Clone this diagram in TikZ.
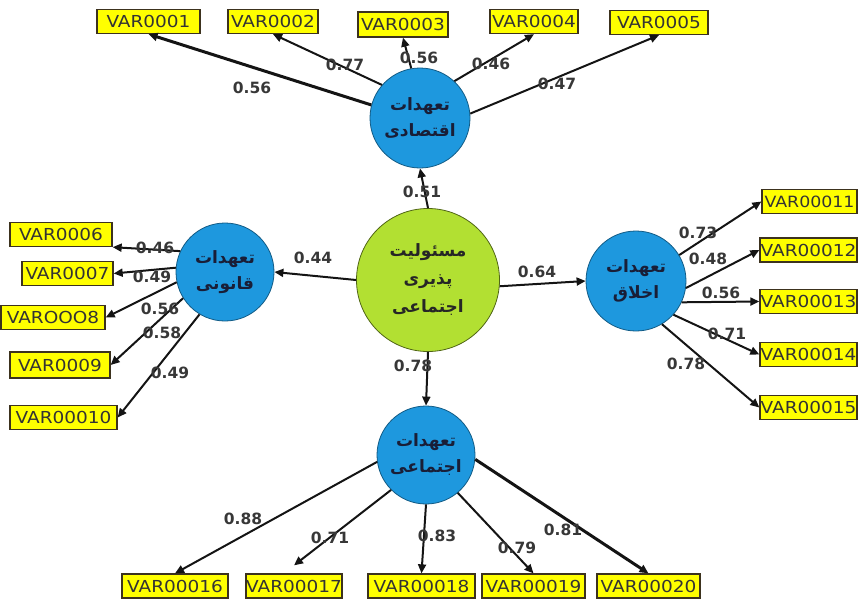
\documentclass[tikz,border=0pt]{standalone}
\usepackage{fontspec}
\usetikzlibrary{arrows.meta}
\TeXXeTstate=1
\newfontfamily\arabicfont[Script=Arabic]{DejaVu Sans}
\newfontfamily\boxfont[FakeStretch=1.12]{DejaVu Sans}
\newfontfamily\labfont{DejaVu Sans}
\definecolor{blueC}{RGB}{30,152,222}
\definecolor{greenC}{RGB}{178,224,50}
\definecolor{boxY}{RGB}{255,255,0}
\definecolor{boxL}{RGB}{60,50,30}
\definecolor{labC}{RGB}{55,55,55}
\definecolor{arC}{RGB}{25,30,55}
\tikzset{
  lat/.style={circle, fill=blueC, draw=blueC!60!black, line width=0.8pt, minimum size=100pt, inner sep=0pt, align=center, text=arC, font=\arabicfont\bfseries\fontsize{17}{26}\selectfont},
  core/.style={circle, fill=greenC, draw=greenC!45!black, line width=0.8pt, minimum size=143pt, inner sep=0pt, align=center, text=black!85, font=\arabicfont\bfseries\fontsize{17}{28}\selectfont},
  vbox/.style={draw=boxL, fill=boxY, line width=1.3pt, minimum width=#1, minimum height=24pt, inner sep=0pt, font=\boxfont\fontsize{16.5}{16.5}\selectfont, text=black!80},
  conn/.style={-{Triangle[length=9pt,width=8pt]}, line width=2pt, draw=black!92},
  thick conn/.style={conn, line width=3pt},
  lab/.style={font=\labfont\bfseries\fontsize{15.5}{16}\selectfont, text=labC, inner sep=0pt}
}
\begin{document}
\begin{tikzpicture}[x=1pt,y=-1pt]
\useasboundingbox (0,0) rectangle (858,600);
% latent variables
\node[core] (C) at (428,280) {\beginR مسئولیت\endR\\\beginR پذیری\endR\\\beginR اجتماعی\endR};
\node[lat] (T) at (420,118) {\beginR تعهدات\endR\\\beginR اقتصادی\endR};
\node[lat, minimum size=98pt] (L) at (225,272) {\beginR تعهدات\endR\\\beginR قانونی\endR};
\node[lat] (R) at (636,281) {\beginR تعهدات\endR\\\beginR اخلاق\endR};
\node[lat, minimum size=98pt] (B) at (426,455) {\beginR تعهدات\endR\\\beginR اجتماعی\endR};
% indicators top
\node[vbox=103pt] (v1) at (148.5,21.5) {VAR0001};
\node[vbox=90pt] (v2) at (273,21.5) {VAR0002};
\node[vbox=90pt, minimum height=25pt] (v3) at (403,24.5) {VAR0003};
\node[vbox=88pt] (v4) at (534,21.5) {VAR0004};
\node[vbox=98pt] (v5) at (659,22.5) {VAR0005};
% left
\node[vbox=102pt] (v6) at (61,234.5) {VAR0006};
\node[vbox=91pt] (v7) at (67.5,273.5) {VAR0007};
\node[vbox=104pt] (v8) at (53,317.5) {VAROOO8};
\node[vbox=100pt, minimum height=26pt] (v9) at (60,365) {VAR0009};
\node[vbox=107pt] (v10) at (63.5,417.5) {VAR00010};
% right
\node[vbox=95pt, font=\boxfont\fontsize{15.5}{15.5}\selectfont] (v11) at (809.5,201.5) {VAR00011};
\node[vbox=97pt] (v12) at (808.5,250) {VAR00012};
\node[vbox=97pt] (v13) at (808.5,301.5) {VAR00013};
\node[vbox=97pt] (v14) at (808.5,354.5) {VAR00014};
\node[vbox=97pt] (v15) at (808.5,407.5) {VAR00015};
% bottom
\node[vbox=106pt] (v16) at (175,586) {VAR00016};
\node[vbox=92pt] (v17) at (294,586) {VAR00017};
\node[vbox=107pt] (v18) at (421.5,586) {VAR00018};
\node[vbox=103pt] (v19) at (533.5,586) {VAR00019};
\node[vbox=103pt] (v20) at (648.5,586) {VAR00020};
% structural paths
\draw[conn] (C.north) -- (T.south);
\draw[conn] (C.west) -- (L.east);
\draw[conn] (C.-5) -- (R.west);
\draw[conn] (C.south) -- (B.north);
% top loadings
\draw[thick conn] (T.165) -- (v1.south);
\draw[conn] (T.139) -- (v2.south);
\draw[conn] (T.100) -- (v3.south);
\draw[conn] (T.47) -- (v4.south);
\draw[conn] (T.5) -- (v5.south);
% left loadings
\draw[conn] (L.155) -- (v6.south east);
\draw[conn] (L.175) -- (v7.east);
\draw[conn] (L.192) -- (v8.east);
\draw[conn] (L.212) -- (v9.east);
\draw[conn] (L.239) -- (v10.east);
% right loadings
\draw[conn] (R.31) -- (v11.west);
\draw[conn] (R.-8) -- (v12.west);
\draw[conn] (R.-25) -- (v13.west);
\draw[conn] (R.-42) -- (v14.west);
\draw[conn] (R.-59) -- (v15.west);
% bottom loadings
\draw[conn] (B.188) -- (v16.north);
\draw[conn] (B.225) -- ([yshift=8pt]v17.north);
\draw[conn] (B.270) -- (v18.north);
\draw[conn] (B.-50) -- (v19.north);
\draw[thick conn] (B.-5) -- (v20.north);
% labels
\node[lab] (l0a) at (422,192) {0.51};
\node[lab] (l0b) at (313,258) {0.44};
\node[lab] (l0c) at (537,272) {0.64};
\node[lab] (l0d) at (413,366) {0.78};
\node[lab] (l1) at (252,88) {0.56};
\node[lab] (l2) at (345,65) {0.77};
\node[lab] (l3) at (419,58) {0.56};
\node[lab] (l4) at (491,64) {0.46};
\node[lab] (l5) at (557,84) {0.47};
\node[lab] (l6) at (155,248) {0.46};
\node[lab] (l7) at (152,277) {0.49};
\node[lab] (l8) at (160,309) {0.56};
\node[lab] (l9) at (162,333) {0.58};
\node[lab] (l10) at (170,373) {0.49};
\node[lab] (l11) at (698,233) {0.73};
\node[lab] (l12) at (708,259) {0.48};
\node[lab] (l13) at (721,293) {0.56};
\node[lab] (l14) at (727,334) {0.71};
\node[lab] (l15) at (686,364) {0.78};
\node[lab] (l16) at (243,519) {0.88};
\node[lab] (l17) at (330,538) {0.71};
\node[lab] (l18) at (437,536) {0.83};
\node[lab] (l19) at (517,548) {0.79};
\node[lab] (l20) at (563,530) {0.81};
\end{tikzpicture}
\end{document}
